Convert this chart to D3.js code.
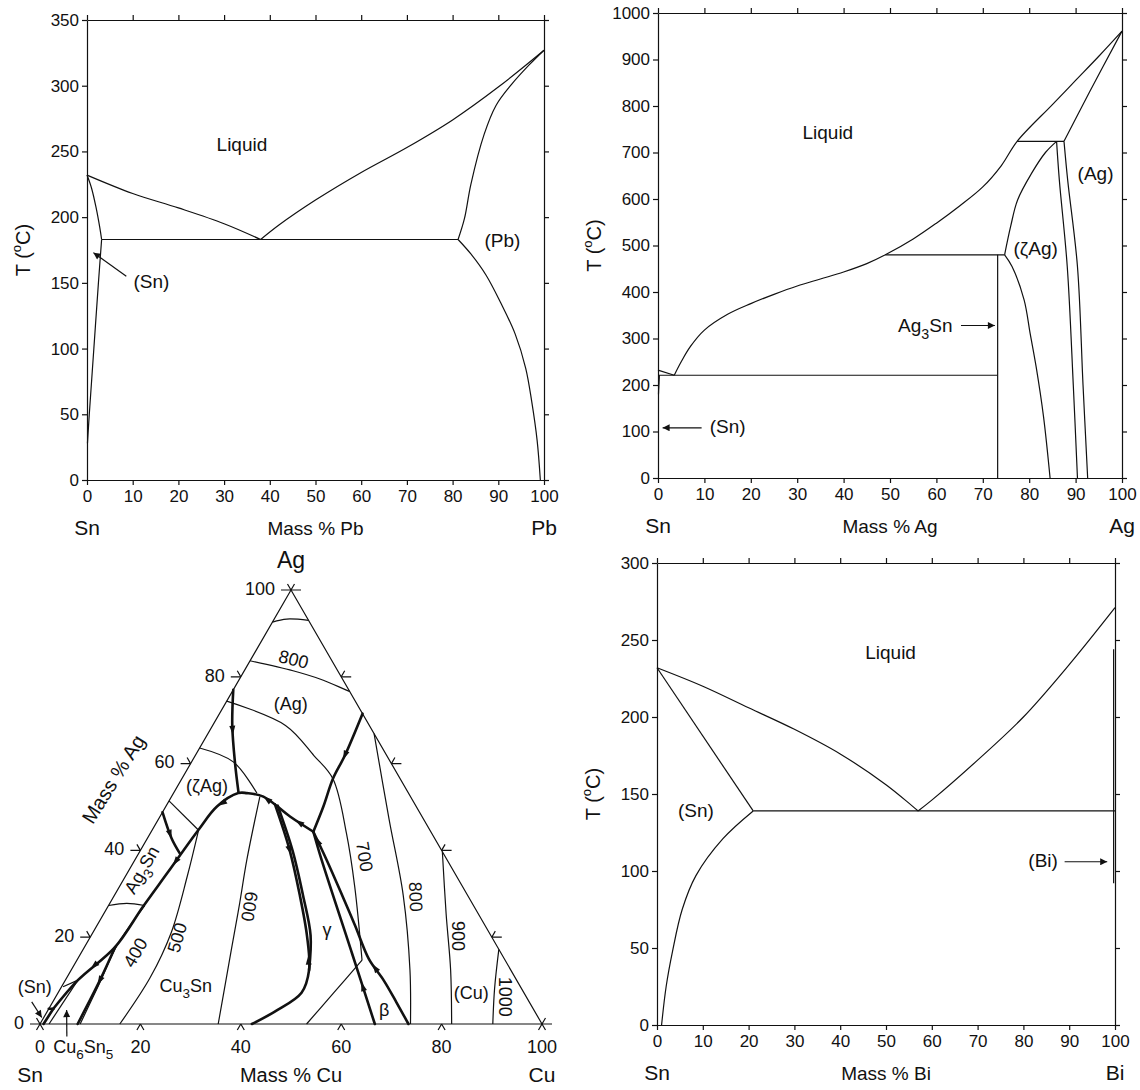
<!DOCTYPE html>
<html>
<head>
<meta charset="utf-8">
<script src="https://cdnjs.cloudflare.com/ajax/libs/d3/7.8.5/d3.min.js"></script>
<style>
body { margin: 0; background: #fff; }
svg { font-family: "Liberation Sans", Arial, sans-serif; fill: #111; }
.axis .domain, .axis line { stroke: #111; stroke-width: 1.2; }
.axis text { font-size: 17px; fill: #111; font-family: "Liberation Sans", Arial, sans-serif; }
.thin { fill: none; stroke: #111; stroke-width: 1.2; stroke-linejoin: round; }
.thick { fill: none; stroke: #111; stroke-width: 2.6; stroke-linejoin: round; stroke-linecap: round; }
</style>
</head>
<body>
<svg width="1140" height="1090"></svg>
<script>
// ---------- tick values ----------
var compTicks = [0, 10, 20, 30, 40, 50, 60, 70, 80, 90, 100];
var snPbTTicks = [0, 50, 100, 150, 200, 250, 300, 350];
var snAgTTicks = [0, 100, 200, 300, 400, 500, 600, 700, 800, 900, 1000];
var snBiTTicks = [0, 50, 100, 150, 200, 250, 300];
var ternTicks = [0, 20, 40, 60, 80, 100];
var ternRightTicks = [0, 20, 40, 60, 80, 100];

// ---------- Sn-Pb  [mass % Pb, T] ----------
var snPbLiquidusSn = [[0, 232], [10, 218], [20, 207], [30, 195], [38, 183]];
var snPbLiquidusPb = [[38, 183], [42, 194], [50, 213], [60, 234], [70, 253], [80, 274], [90, 299], [100, 327]];
var snPbSolidusSn = [[0, 232], [1, 222], [2, 207], [2.8, 192], [3.2, 183]];
var snPbSolvusSn = [[3.2, 183], [2.5, 150], [1.5, 100], [0.5, 50], [0.1, 28]];
var snPbSolidusPb = [[100, 327], [96.8, 316], [92.9, 301], [89.5, 285], [86.9, 263], [84, 225], [82.6, 199], [81.2, 183]];
var snPbSolvusPb = [[81.2, 183], [84, 172], [87.3, 156], [90.5, 135], [93.7, 111], [96, 85], [97.3, 60], [98.5, 30], [99.2, 0]];
var snPbEutectic = [[3.2, 183], [81.2, 183]];
var snPbLabels = [["Liquid", 33.9, 254], ["(Pb)", 90.9, 181], ["(Sn)", 14.1, 150]];
var snPbArrows = [[[8.6, 155], [1.4, 173]]];

// ---------- Sn-Ag  [mass % Ag, T] ----------
var snAgLiquidusSn = [[0, 232], [3.5, 221]];
var snAgLiquidus = [[3.5, 221], [5, 250], [7, 283], [10, 318], [15, 352], [20, 375], [25, 395], [30, 413], [35, 428],
  [40, 443], [45, 461], [49, 480], [55, 514], [60, 548], [65, 585], [70, 626], [74, 672], [77.4, 724],
  [85, 803], [90, 855], [95, 907], [100, 961]];
var snAgEutectic = [[0, 221], [73.2, 221]];
var snAgPeritecticLow = [[49, 480], [74.7, 480]];
var snAgPeritecticHigh = [[77.4, 724], [87.5, 724]];
var snAgAg3Sn = [[73.2, 0], [73.2, 480]];
var snAgZetaSolidus = [[74.7, 480], [76, 541], [77.5, 598], [80.5, 655], [83.5, 700], [85.9, 724]];
var snAgZetaSolvus = [[74.7, 480], [76.3, 455], [78.9, 383], [80.2, 311], [81.5, 239], [83.1, 131], [84.5, 0]];
var snAgZetaRight = [[85.9, 724], [86.5, 640], [88.2, 455], [89.5, 200], [90.4, 0]];
var snAgAgSolidus = [[87.5, 724], [93, 830], [100, 961]];
var snAgAgSolvus = [[87.5, 724], [88.3, 640], [90.4, 455], [91.6, 200], [92.6, 0]];
var snAgSnSolvus = [[0.3, 221], [0.1, 180]];
var snAgLabels = [["Liquid", 36.6, 739], ["(Ag)", 94.3, 652], ["(\u03B6Ag)", 81.4, 490], ["Ag_3Sn", 57.6, 325], ["(Sn)", 15, 108]];
var snAgArrows = [[[65.3, 328], [72.6, 328]], [[9.4, 108], [1.0, 108]]];

// ---------- Sn-Bi  [mass % Bi, T] ----------
var snBiLiquidusSn = [[0, 232], [10, 220], [20, 206], [30, 192], [40, 176], [50, 156], [57, 139]];
var snBiLiquidusBi = [[57, 139], [60, 146], [70, 172], [80, 200], [90, 234], [100, 271]];
var snBiSolidus = [[0, 232], [21, 139]];
var snBiSolvus = [[21, 139], [14.4, 121], [8.5, 97], [5.5, 75], [3.4, 48], [2, 25], [1, 0]];
var snBiEutectic = [[21, 139], [100, 139]];
var snBiBi = [[99.7, 92], [99.7, 244]];
var snBiLabels = [["Liquid", 51, 241], ["(Sn)", 8.5, 138], ["(Bi)", 84.3, 106]];
var snBiArrows = [[[89, 106], [98.3, 106]]];

// ---------- Sn-Ag-Cu liquidus projection  [mass % Cu, mass % Ag] ----------
var isoTop = [[0, 92.6], [2.5, 93.3], [7, 93]];
var iso800a = [[0, 83.7], [9.7, 81.4], [16, 79.5], [23.4, 76.6]];
var iso700 = [[0, 74.4], [14.5, 68.8], [23.7, 61.8], [30.1, 56.5], [39.1, 43.9], [46.9, 31.6], [56.8, 14.7]];
var iso700b = [[53.1, 0], [54.9, 7.1], [56.8, 14.7]];
var iso800b = [[33.1, 66.9], [46, 47.1], [57.5, 29.7], [67.5, 12.4], [73.8, 0]];
var iso900 = [[60.3, 39.7], [68.2, 25.4], [75.6, 12.4], [82, 0]];
var iso1000 = [[82.8, 17.2], [86.5, 8.1], [90.2, 0]];
var iso600 = [[17.6, 52.4], [22.3, 37.8], [25.8, 28], [29.6, 17], [35.5, 0]];
var iso500 = [[9.3, 44.5], [12.3, 34.1], [15.6, 21.1], [16.6, 10.7], [15.9, 0]];
var iso400 = [[7.2, 27.3], [6.3, 18.2], [7.2, 9], [8.0, 0]];
var isoAg3Sn = [[0, 27.3], [3.4, 27.8], [7.2, 27.3]];
var isoZetaAg3Sn = [[0, 51.4], [9.2, 44.7]];
var isoZetaAg = [[0, 63.6], [8.3, 60.4], [16.6, 53.2]];
var cornerA = [[1.8, 0], [2.5, 10.1]];
var cornerB = [[0.3, 8.6], [2.5, 10.1]];

var valleyAgZeta = [[0, 77], [3.9, 68.8], [8.8, 60.1], [12.9, 53.3]];
var valleyAgGamma = [[28.5, 71.5], [29.8, 61.8], [30.1, 56.5], [31.4, 50.1], [32.3, 44.3]];
var valleyArch = [[32.3, 44.3], [25.9, 47.8], [18.3, 52.4], [14.6, 53.2], [12.9, 53.2], [10.2, 50.1], [9.2, 44.7],
  [8.0, 35.0], [7.0, 27], [6.1, 17.7], [2.5, 10.1], [0.9, 3.5]];
var valleyEutSn = [[0.9, 3.5], [0.7, 0]];
var valleyEutAg = [[0.9, 3.5], [0, 3.5]];
var valleyAg3Sn = [[0, 48.8], [4.8, 42.8], [8.2, 39.3]];
var valleyCu3Sn = [[21.5, 50.6], [29.6, 40.2], [36.9, 29.7], [43.1, 20.2], [47.4, 12.4], [48.5, 7.2], [45.4, 2.9], [42.2, 0]];
var valleyCu3SnB = [[22.2, 50.3], [30.3, 40], [37.6, 29.6], [43.7, 20.4], [47.4, 12.4]];
var valleyBetaCu = [[32.3, 44.3], [38.2, 37.8], [45.5, 29.5], [51.5, 22.6], [58, 15], [63.5, 10], [68.5, 5], [73.4, 0]];
var valleyBetaGamma = [[32.3, 44.3], [37.2, 37.8], [54, 16.3], [66.7, 0]];
var valleyCu6Sn5 = [[7.5, 0], [6.9, 10.1], [6.1, 17.7]];

var ternThin = [isoTop, iso800a, iso700, iso700b, iso800b, iso900, iso1000, iso600, iso500, iso400,
  isoAg3Sn, isoZetaAg3Sn, isoZetaAg, cornerA, cornerB];
var ternThick = [valleyAgZeta, valleyAgGamma, valleyArch, valleyEutSn, valleyEutAg, valleyAg3Sn,
  valleyCu3Sn, valleyCu3SnB, valleyBetaCu, valleyBetaGamma, valleyCu6Sn5];
// arrow heads on valleys: [line, near point, direction along the line]
var ternValleyArrows = [
  [valleyAgZeta, [4.5, 67.8], 1], [valleyAgGamma, [29.8, 62], 1],
  [valleyArch, [28.5, 46.3], 1], [valleyArch, [19.5, 52], 1], [valleyArch, [10.8, 51], 1],
  [valleyArch, [8.3, 37.5], 1], [valleyArch, [4.2, 13.4], 1], [valleyAg3Sn, [4.0, 43.8], 1],
  [valleyCu3Sn, [29.6, 40.2], 1], [valleyCu3Sn, [46.3, 14.6], -1],
  [valleyBetaCu, [34.2, 42], -1], [valleyBetaCu, [60.5, 13], -1], [valleyBetaGamma, [60, 8.5], -1],
  [valleyCu6Sn5, [6.9, 10.1], -1]];
var ternIsoLabels = [["800", 8.6, 83.7, 14], ["700", 45.1, 38.5, 81], ["800", 59.9, 29.3, 88], ["900", 72.9, 20.3, 90],
  ["1000", 89.2, 6.3, 90], ["600", 27.9, 27.1, 99], ["500", 17.7, 19.8, -74], ["400", 11.1, 16.3, -60]];
var ternPhaseLabels = [["(Ag)", 13.2, 73.5, 0], ["(\u03B6Ag)", 6.0, 54.5, 0], ["Ag_3Sn", 2.8, 35.4, -60], ["\u03B3", 46.4, 21.5, 0],
  ["\u03B2", 67.1, 2.9, 0], ["(Cu)", 82.5, 6.8, 0], ["Cu_3Sn", 24.8, 8.5, 0], ["(Sn)", -5.2, 8.3, 0], ["Cu_6Sn_5", 11.4, -5.6, 0]];
var ternLabelArrows = [[[-4.2, 5.1], [-0.4, 1.5]], [[6.8, -2.9], [3.7, 3.2]]];

var svg = d3.select("svg");

svg.append("defs").append("marker")
   .attr("id", "head")
   .attr("viewBox", "0 0 10 10")
   .attr("refX", 10).attr("refY", 5)
   .attr("markerUnits", "userSpaceOnUse")
   .attr("markerWidth", 11).attr("markerHeight", 7)
   .attr("orient", "auto")
   .append("path").attr("d", "M0,0L10,5L0,10z").attr("fill", "#111");

/**
 * Writes text with _3 style subscripts and ^o style superscripts
 */
function richText(t, str) {
    str.split(/(_\d+|\^[a-z])/).forEach(function(part) {
        if (!part) return;
        if (part[0] === "_") {
            t.append("tspan").attr("baseline-shift", "sub").attr("font-size", "75%").text(part.slice(1));
        } else if (part[0] === "^") {
            t.append("tspan").attr("baseline-shift", "super").attr("font-size", "65%").text(part.slice(1));
        } else {
            t.append("tspan").text(part);
        }
    });
    return t;
}

/**
 * Draws one binary phase diagram
 */
function drawBinary(p) {
    var x = d3.scaleLinear().domain([0, 100]).range([p.left, p.right]);
    var y = d3.scaleLinear().domain([0, p.tMax]).range([p.bottom, p.top]);
    var g = svg.append("g");

    g.append("g").attr("class", "axis")
     .attr("transform", "translate(0," + p.bottom + ")")
     .call(d3.axisBottom(x).tickValues(compTicks).tickSize(5).tickSizeOuter(0).tickPadding(5).tickFormat(d3.format("d")));
    g.append("g").attr("class", "axis")
     .attr("transform", "translate(0," + p.top + ")")
     .call(d3.axisTop(x).tickValues(compTicks).tickSize(5).tickSizeOuter(0).tickFormat(""));
    g.append("g").attr("class", "axis")
     .attr("transform", "translate(" + p.left + ",0)")
     .call(d3.axisLeft(y).tickValues(p.yTicks).tickSize(5).tickSizeOuter(0).tickPadding(3).tickFormat(d3.format("d")));
    g.append("g").attr("class", "axis")
     .attr("transform", "translate(" + p.right + ",0)")
     .call(d3.axisRight(y).tickValues(p.yTicks).tickSize(5).tickSizeOuter(0).tickFormat(""));

    var line = d3.line()
                 .curve(d3.curveCatmullRom.alpha(0.5))
                 .x(function(d) { return x(d[0]); })
                 .y(function(d) { return y(d[1]); });

    g.selectAll(".curve").data(p.curves).enter()
     .append("path").attr("class", "thin").attr("d", line);
    if (p.thickCurves) {
        g.selectAll(".tc").data(p.thickCurves).enter()
         .append("path").attr("class", "thin").attr("stroke-width", 2.4).attr("d", line);
    }

    g.selectAll(".arr").data(p.arrows).enter()
     .append("path").attr("class", "thin")
     .attr("marker-end", "url(#head)")
     .attr("d", line);

    p.labels.forEach(function(l) {
        richText(g.append("text")
          .attr("x", x(l[1])).attr("y", y(l[2]))
          .attr("text-anchor", "middle").attr("dominant-baseline", "middle")
          .attr("font-size", 19), l[0]);
    });

    // element names and axis title
    g.append("text").attr("x", x(0)).attr("y", p.bottom + 55).attr("text-anchor", "middle")
     .attr("font-size", 21).text("Sn");
    g.append("text").attr("x", x(100)).attr("y", p.bottom + 55).attr("text-anchor", "middle")
     .attr("font-size", 21).text(p.element);
    g.append("text").attr("x", x(50)).attr("y", p.bottom + 55).attr("text-anchor", "middle")
     .attr("font-size", 19).text("Mass % " + p.element);
    richText(g.append("text")
      .attr("transform", "translate(" + (p.left - 62) + "," + ((p.top + p.bottom) / 2) + ") rotate(-90)")
      .attr("text-anchor", "middle").attr("dominant-baseline", "middle")
      .attr("font-size", 20), "T (^oC)");
}

drawBinary({
    left: 87, right: 544, top: 20, bottom: 480, tMax: 350, yTicks: snPbTTicks, element: "Pb",
    curves: [snPbLiquidusSn, snPbLiquidusPb, snPbSolidusSn, snPbSolvusSn, snPbSolidusPb, snPbSolvusPb, snPbEutectic],
    labels: snPbLabels, arrows: snPbArrows
});
drawBinary({
    left: 658, right: 1122, top: 13, bottom: 478, tMax: 1000, yTicks: snAgTTicks, element: "Ag",
    curves: [snAgLiquidusSn, snAgLiquidus, snAgEutectic, snAgPeritecticLow, snAgPeritecticHigh, snAgAg3Sn,
             snAgZetaSolidus, snAgZetaSolvus, snAgZetaRight, snAgAgSolidus, snAgAgSolvus, snAgSnSolvus],
    labels: snAgLabels, arrows: snAgArrows
});
drawBinary({
    left: 657, right: 1115, top: 563, bottom: 1025, tMax: 300, yTicks: snBiTTicks, element: "Bi",
    curves: [snBiLiquidusSn, snBiLiquidusBi, snBiSolidus, snBiSolvus, snBiEutectic],
    thickCurves: [snBiBi],
    labels: snBiLabels, arrows: snBiArrows
});

// ---------- ternary ----------
var tx = d3.scaleLinear().domain([0, 100]).range([40, 542]);
var ty = d3.scaleLinear().domain([0, 100]).range([1024, 590]);
function proj(d) { return [tx(d[0] + d[1] / 2), ty(d[1])]; }
var tline = d3.line()
              .curve(d3.curveCatmullRom.alpha(0.5))
              .x(function(d) { return proj(d)[0]; })
              .y(function(d) { return proj(d)[1]; });
var tlineStraight = d3.line()
              .x(function(d) { return proj(d)[0]; })
              .y(function(d) { return proj(d)[1]; });

var tg = svg.append("g");
tg.append("path").attr("class", "thin").attr("d", tlineStraight([[0, 0], [100, 0], [0, 100]]) + "Z");

// chevron ticks, arms follow the grid directions outside the triangle
var armL = 7, dashL = 10;
function tick(p, arms) {
    var d = "";
    arms.forEach(function(a) { d += "M" + p[0] + "," + p[1] + "l" + a[0] + "," + a[1]; });
    tg.append("path").attr("class", "thin").attr("d", d);
}
ternTicks.forEach(function(c) {
    tick(proj([c, 0]), [[-0.5 * armL, 0.866 * armL], [0.5 * armL, 0.866 * armL]]);
    tg.append("text").attr("x", proj([c, 0])[0]).attr("y", proj([c, 0])[1] + 24)
      .attr("text-anchor", "middle").attr("dominant-baseline", "middle").attr("font-size", 18).text(c);
});
ternTicks.forEach(function(a) {
    var p = proj([0, a]);
    tick(p, [[-dashL, 0], [-0.5 * armL, -0.866 * armL]]);
    tg.append("text").attr("x", p[0] - 16).attr("y", p[1])
      .attr("text-anchor", "end").attr("dominant-baseline", "middle").attr("font-size", 18).text(a);
});
ternRightTicks.forEach(function(a) {
    tick(proj([100 - a, a]), [[dashL, 0], [0.5 * armL, -0.866 * armL]]);
});

tg.selectAll(".tt").data(ternThin).enter().append("path").attr("class", "thin").attr("d", tline);
tg.selectAll(".tk").data(ternThick).enter().append("path").attr("class", "thick").attr("d", tline);

// arrow heads on valleys
ternValleyArrows.forEach(function(va) {
    var pts = va[0].map(proj), q = proj(va[1]), best = 0, bd = Infinity, bt = 0;
    for (var i = 0; i < pts.length - 1; i++) {
        var a = pts[i], b = pts[i + 1];
        var vx = b[0] - a[0], vy = b[1] - a[1];
        var t = Math.max(0, Math.min(1, ((q[0] - a[0]) * vx + (q[1] - a[1]) * vy) / (vx * vx + vy * vy)));
        var dd = Math.hypot(a[0] + t * vx - q[0], a[1] + t * vy - q[1]);
        if (dd < bd) { bd = dd; best = i; bt = t; }
    }
    var a0 = pts[best], b0 = pts[best + 1];
    var dx = (b0[0] - a0[0]) * va[2], dy = (b0[1] - a0[1]) * va[2], len = Math.hypot(dx, dy);
    var ux = dx / len, uy = dy / len;
    var cx = a0[0] + bt * (b0[0] - a0[0]), cy = a0[1] + bt * (b0[1] - a0[1]);
    var w = 3;
    tg.append("path").attr("fill", "#111")
      .attr("d", "M" + (cx + ux * 5) + "," + (cy + uy * 5) +
                 "L" + (cx - ux * 4 - uy * w) + "," + (cy - uy * 4 + ux * w) +
                 "L" + (cx - ux * 4 + uy * w) + "," + (cy - uy * 4 - ux * w) + "Z");
});

tg.selectAll(".la").data(ternLabelArrows).enter()
  .append("path").attr("class", "thin").attr("marker-end", "url(#head)").attr("d", tlineStraight);

ternIsoLabels.forEach(function(l) {
    var p = proj([l[1], l[2]]);
    tg.append("text").attr("transform", "translate(" + p[0] + "," + p[1] + ") rotate(" + l[3] + ")")
      .attr("text-anchor", "middle").attr("dominant-baseline", "middle").attr("font-size", 18).text(l[0]);
});
ternPhaseLabels.forEach(function(l) {
    var p = proj([l[1], l[2]]);
    richText(tg.append("text").attr("transform", "translate(" + p[0] + "," + p[1] + ") rotate(" + l[3] + ")")
      .attr("text-anchor", "middle").attr("dominant-baseline", "middle").attr("font-size", 18), l[0]);
});

var agCorner = proj([0, 100]);
tg.append("text").attr("x", agCorner[0]).attr("y", agCorner[1] - 22).attr("text-anchor", "middle")
  .attr("font-size", 23).text("Ag");
tg.append("text").attr("x", proj([0, 0])[0] - 10).attr("y", proj([0, 0])[1] + 58).attr("text-anchor", "middle")
  .attr("font-size", 21).text("Sn");
tg.append("text").attr("x", proj([100, 0])[0]).attr("y", proj([100, 0])[1] + 58).attr("text-anchor", "middle")
  .attr("font-size", 21).text("Cu");
tg.append("text").attr("x", proj([50, 0])[0]).attr("y", proj([50, 0])[1] + 58).attr("text-anchor", "middle")
  .attr("font-size", 20).text("Mass % Cu");
var mAg = proj([-13.2, 56.2]);
tg.append("text").attr("transform", "translate(" + mAg[0] + "," + mAg[1] + ") rotate(-58)")
  .attr("text-anchor", "middle").attr("dominant-baseline", "middle").attr("font-size", 20).text("Mass % Ag");
</script>
</body>
</html>
